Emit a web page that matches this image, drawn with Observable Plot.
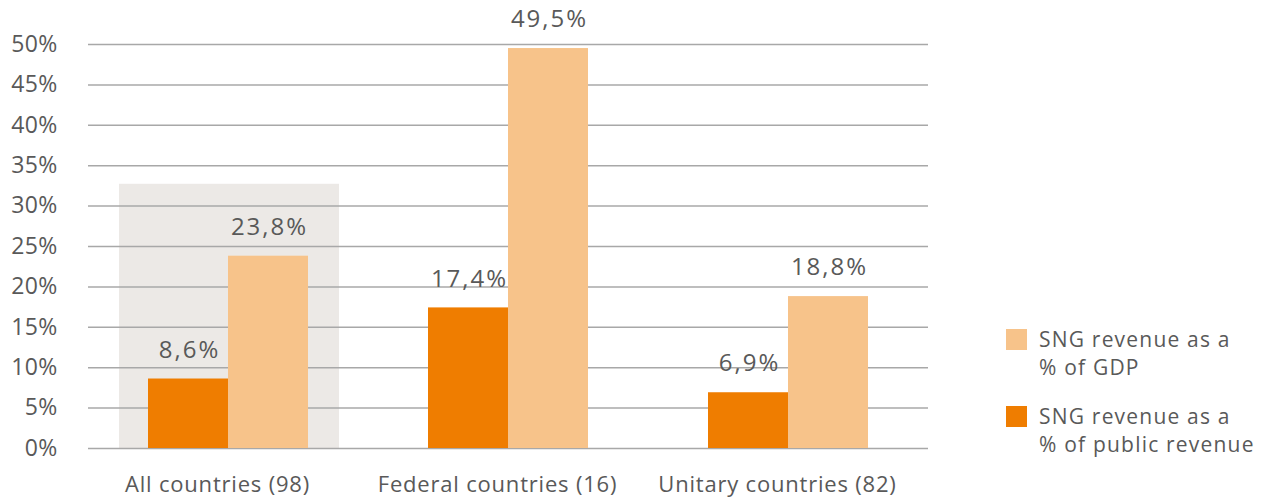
<!DOCTYPE html>
<html>
<head>
<meta charset="utf-8">
<script src="https://cdn.jsdelivr.net/npm/d3@7"></script>
<script src="https://cdn.jsdelivr.net/npm/@observablehq/plot@0.6"></script>
<style>
  html, body { margin: 0; padding: 0; background: #fff; }
  body { width: 1269px; height: 499px; position: relative; overflow: hidden; font-family: "Open Sans", sans-serif; }
  #chart { position: absolute; left: 0; top: 0; }
  .legend { position: absolute; left: 1006px; font-size: 21px; letter-spacing: 1.2px; color: #595959; line-height: 28px; }
  .legend .sw { position: absolute; left: 0; top: 0; width: 21px; height: 21px; }
  .legend .lb { position: absolute; left: 33px; top: -4px; white-space: nowrap; }
  svg g[aria-label="text"] text { letter-spacing: 2px; }
  svg g[aria-label="fx-axis tick label"] text { letter-spacing: 0.8px; }
  svg g[aria-label="y-axis tick label"] text { letter-spacing: 0.3px; }
</style>
</head>
<body>
<div id="chart"></div>
<div class="legend" style="top:329px"><div class="sw" style="background:#f7c38a"></div><div class="lb">SNG revenue as a<br>% of GDP</div></div>
<div class="legend" style="top:406px"><div class="sw" style="background:#ef7d00"></div><div class="lb">SNG revenue as a<br>% of public revenue</div></div>
<script>
const categories = ["All countries (98)", "Federal countries (16)", "Unitary countries (82)"];
const series = ["SNG revenue as a % of public revenue", "SNG revenue as a % of GDP"];
const publicRevenue = [8.6, 17.4, 6.9];
const gdpRevenue = [23.8, 49.5, 18.8];
const yTicks = [0, 5, 10, 15, 20, 25, 30, 35, 40, 45, 50];
const highlight = [{cat: "All countries (98)", top: 32.7}];
const colors = ["#ef7d00", "#f7c38a"];

const data = [];
categories.forEach((c, i) => {
  data.push({cat: c, series: series[0], value: publicRevenue[i]});
  data.push({cat: c, series: series[1], value: gdpRevenue[i]});
});
const fmt = v => v.toFixed(1).replace(".", ",") + "%";

const chart = Plot.plot({
  width: 940,
  height: 499,
  marginLeft: 88,
  marginRight: 12,
  marginTop: 44,
  marginBottom: 51,
  style: {fontSize: "22px", fontFamily: "'Open Sans', sans-serif", color: "#595959", background: "#fff", overflow: "visible"},
  fx: {domain: categories, padding: 0, label: null},
  x: {domain: series, paddingInner: 0, paddingOuter: 0.739, axis: null},
  y: {domain: [0, 50], label: null},
  color: {domain: series, range: colors},
  marks: [
    Plot.barY(highlight, {fx: "cat", y1: 0, y2: "top", fill: "#ece9e6", insetLeft: 31, insetRight: 29}),
    Plot.ruleY(yTicks, {stroke: "#a8a8a8", strokeWidth: 1.5}),
    Plot.barY(data, {fx: "cat", x: "series", y: "value", fill: "series"}),
    Plot.text(data, {fx: "cat", x: "series", y: "value", text: d => fmt(d.value), dy: -29, dx: 1, lineAnchor: "middle", fill: "#595959", fontSize: 24}),
    Plot.axisY({ticks: yTicks, tickFormat: d => d + "%", tickSize: 0, tickPadding: 31, label: null, fill: "#595959", fontSize: 23}),
    Plot.axisFx({anchor: "bottom", tickSize: 0, tickPadding: 28, dx: -11, label: null, fill: "#595959"})
  ]
});
document.getElementById("chart").appendChild(chart);
</script>
</body>
</html>
